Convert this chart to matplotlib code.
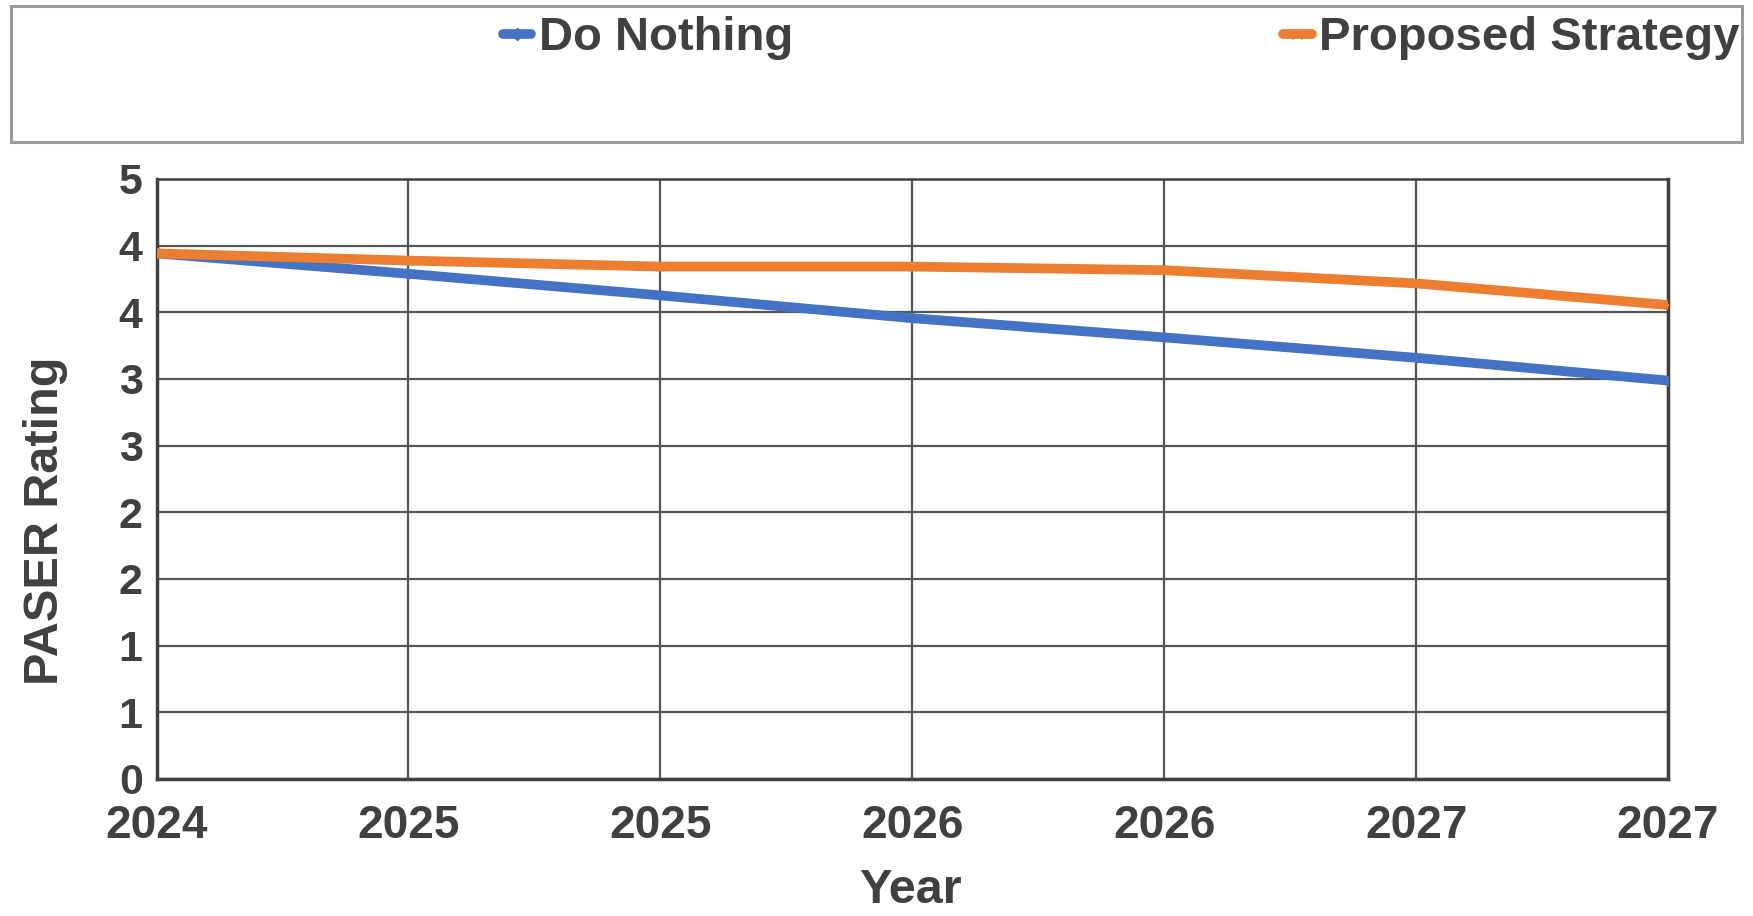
import math
import matplotlib
matplotlib.use("Agg")
import matplotlib.pyplot as plt
from matplotlib.patches import Rectangle
from matplotlib.ticker import FuncFormatter, FixedLocator

plt.rcParams['font.family'] = ['Liberation Sans', 'DejaVu Sans']

# PASER projections, read at half-year steps
years = [2024.0, 2024.5, 2025.0, 2025.5, 2026.0, 2026.5, 2027.0]
do_nothing = [4.38, 4.21, 4.03, 3.84, 3.68, 3.51, 3.32]
proposed = [4.38, 4.32, 4.27, 4.27, 4.24, 4.13, 3.95]

y_ticks = [i * 5 / 9 for i in range(10)]
x_ticks = [2024.0, 2024.5, 2025.0, 2025.5, 2026.0, 2026.5, 2027.0]

BLUE = '#4472C4'
ORANGE = '#ED7D31'
TEXT = '#404040'


def round_half_up(v, pos=None):
    return str(int(math.floor(v + 0.5 + 1e-9)))


fig = plt.figure(figsize=(17.53, 9.16), dpi=100)
ax = fig.add_axes([0.0893, 0.1496, 0.8622, 0.655])

l1, = ax.plot(years, do_nothing, color=BLUE, linewidth=7, marker='D',
              markersize=5, solid_capstyle='round', label='Do Nothing', zorder=3)
l2, = ax.plot(years, proposed, color=ORANGE, linewidth=7, marker='x',
              markersize=6, solid_capstyle='round', label='Proposed Strategy', zorder=4)

ax.set_xlim(2024, 2027)
ax.set_ylim(0, 5)
ax.xaxis.set_major_locator(FixedLocator(x_ticks))
ax.yaxis.set_major_locator(FixedLocator(y_ticks))
ax.xaxis.set_major_formatter(FuncFormatter(round_half_up))
ax.yaxis.set_major_formatter(FuncFormatter(round_half_up))

ax.grid(True, color='#555555', linewidth=1.6)
ax.set_axisbelow(True)
ax.tick_params(axis='both', length=0, colors=TEXT)
ax.tick_params(axis='x', labelsize=33, pad=18)
ax.tick_params(axis='y', labelsize=31, pad=10)
for lab in ax.get_xticklabels() + ax.get_yticklabels():
    lab.set_fontweight('bold')

for side in ['left', 'bottom', 'right', 'top']:
    ax.spines[side].set_color(TEXT)
    ax.spines[side].set_linewidth(2.5)
ax.spines['top'].set_linewidth(1.8)

ax.set_xlabel('Year', fontsize=35, fontweight='bold', color=TEXT)
ax.set_ylabel('PASER Rating', fontsize=35, fontweight='bold', color=TEXT)
ax.xaxis.set_label_coords(0.499, -0.148)
ax.yaxis.set_label_coords(-0.0585, 0.43)

# legend frame across the top
fig.patches.append(Rectangle((0.0063, 0.845), 0.9875, 0.148, transform=fig.transFigure,
                             fill=False, edgecolor='#9a9a9a', linewidth=2.2))

for handle, x0 in [(l1, 0.287), (l2, 0.732)]:
    fig.legend(handles=[handle], loc='center left', bbox_to_anchor=(x0, 0.958),
               frameon=False, handlelength=0.6, handletextpad=0.15, borderpad=0,
               borderaxespad=0, prop={'size': 34, 'weight': 'bold'},
               labelcolor=TEXT, markerscale=1.2)

fig.savefig('out.png', dpi=100)
